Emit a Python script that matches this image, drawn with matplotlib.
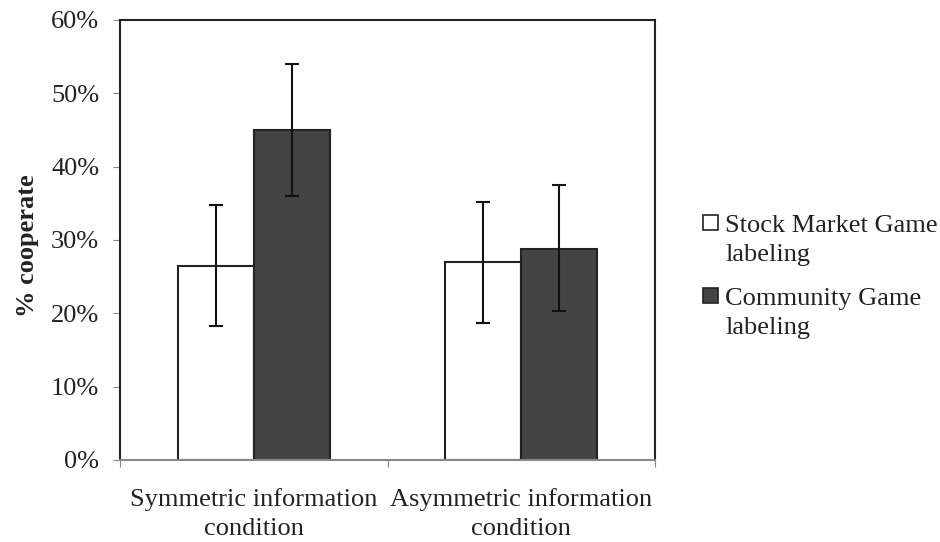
import numpy as np
import matplotlib.pyplot as plt
from matplotlib.patches import Rectangle
from matplotlib.ticker import FuncFormatter

plt.rcParams['font.family'] = ['Liberation Serif', 'DejaVu Serif']

conditions = ['Symmetric information\ncondition', 'Asymmetric information\ncondition']
series_names = ['Stock Market Game\nlabeling', 'Community Game\nlabeling']
series_colors = ['white', '#444444']
stock_market = [26.5, 27.0]
stock_low = [18.3, 18.7]
stock_high = [34.8, 35.2]
community = [45.0, 28.8]
community_low = [36.0, 20.3]
community_high = [54.0, 37.5]

W, H = 940, 542
fig = plt.figure(figsize=(9.4, 5.42), dpi=100)
ax = fig.add_axes([120/W, 82/H, 535/W, 440/H])

x = np.arange(len(conditions))
w = 0.285
sm = np.array(stock_market)
cm = np.array(community)
sm_err = [sm - np.array(stock_low), np.array(stock_high) - sm]
cm_err = [cm - np.array(community_low), np.array(community_high) - cm]
ekw = dict(ecolor='#111111', elinewidth=1.5, capsize=5, capthick=1.5)

ax.bar(x - w/2, sm, w, color=series_colors[0], edgecolor='#222222', linewidth=1.5,
       yerr=sm_err, error_kw=ekw)
ax.bar(x + w/2, cm, w, color=series_colors[1], edgecolor='#222222', linewidth=1.5,
       yerr=cm_err, error_kw=ekw)

ax.set_xlim(-0.5, 1.5)
ax.set_ylim(0, 60)
ax.set_yticks(np.arange(0, 61, 10))
ax.yaxis.set_major_formatter(FuncFormatter(lambda v, p: '%d%%' % v))
ax.set_xticks([-0.5, 0.5, 1.5])
ax.set_xticklabels([])
ax.set_xticks(x, minor=True)
ax.set_xticklabels(conditions, minor=True, fontsize=19, linespacing=1.4, color='#222222')
ax.tick_params(axis='x', which='minor', length=0, pad=20)
ax.tick_params(axis='x', which='major', length=5, direction='out', color='#888888')
ax.tick_params(axis='y', length=5, direction='out', labelsize=19, pad=10,
               color='#888888', labelcolor='#222222')
ax.set_ylabel('% cooperate', fontsize=19, fontweight='bold', color='#222222')
ax.yaxis.set_label_coords(-0.151, 0.486)
for s in ax.spines.values():
    s.set_linewidth(1.5)
    s.set_color('#222222')
ax.spines['bottom'].set_color('#888888')

# legend drawn by hand so the box sits at the first text line
for i, (name, col) in enumerate(zip(series_names, series_colors)):
    cy = 222 + i * 73
    fig.add_artist(Rectangle((703/W, 1 - (cy + 7.5)/H), 15/W, 15/H,
                             transform=fig.transFigure, facecolor=col,
                             edgecolor='#222222', linewidth=1.2))
    fig.text(725/W, 1 - (cy - 7)/H, name, fontsize=19, va='top', ha='left',
             linespacing=1.4, color='#222222')

fig.savefig('out.png', dpi=100)
